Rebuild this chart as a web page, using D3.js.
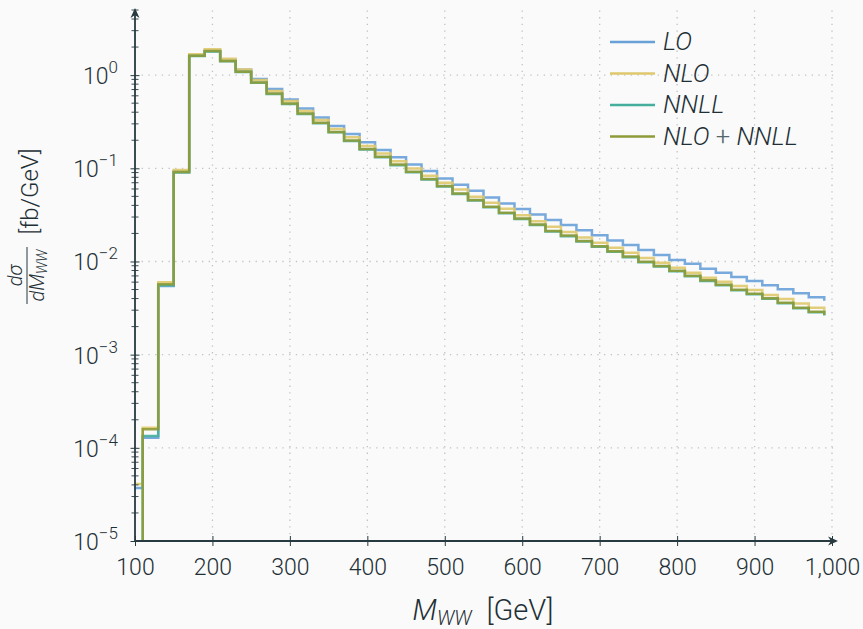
<!DOCTYPE html>
<html>
<head>
<meta charset="utf-8">
<script src="https://cdn.jsdelivr.net/npm/d3@7"></script>
<style>
    html, body { margin: 0; padding: 0; background: #fafafa; }
    svg { display: block; }
    text { font-family: Roboto, "DejaVu Sans", sans-serif; font-weight: 300; fill: #1e3036; }
</style>
</head>
<body>
<svg id="chart" width="863" height="629"></svg>
<script>
// Bin left edges in GeV (20 GeV bins); the last entry only closes the final step
const binEdges = [90, 110, 130, 150, 170, 190, 210, 230, 250, 270, 290, 310, 330, 350, 370,
    390, 410, 430, 450, 470, 490, 510, 530, 550, 570, 590, 610, 630, 650, 670,
    690, 710, 730, 750, 770, 790, 810, 830, 850, 870, 890, 910, 930, 950, 970, 990];

// dσ/dM_WW in fb/GeV
const loValues = [3.7e-5, 1.28e-4, 5.45e-3, 0.093, 1.62, 1.82, 1.45, 1.14, 0.906, 0.708,
    0.548, 0.439, 0.352, 0.284, 0.233, 0.190, 0.157, 0.131, 0.110, 0.0933,
    0.0779, 0.0665, 0.0574, 0.0487, 0.0420, 0.0365, 0.0320, 0.0278, 0.0246, 0.0216,
    0.0191, 0.0168, 0.0150, 0.0133, 0.0117, 0.0104, 0.00945, 0.00835, 0.00757, 0.00680,
    0.00617, 0.00554, 0.00502, 0.00455, 0.00412, 0.00379];

const nloValues = [4.1e-5, 1.64e-4, 5.97e-3, 0.0957, 1.68, 1.90, 1.50, 1.15, 0.884, 0.674,
    0.526, 0.411, 0.329, 0.264, 0.215, 0.173, 0.144, 0.119, 0.0998, 0.0831,
    0.0699, 0.0594, 0.0495, 0.0427, 0.0367, 0.0313, 0.0271, 0.0236, 0.0207, 0.0181,
    0.0159, 0.0140, 0.0124, 0.0109, 0.00968, 0.00856, 0.00757, 0.00668, 0.00606, 0.00545,
    0.00493, 0.00436, 0.00395, 0.00355, 0.00318, 0.00296];

const nnllValues = [1e-7, 1.34e-4, 5.55e-3, 0.090, 1.60, 1.79, 1.41, 1.08, 0.826, 0.629,
    0.491, 0.383, 0.304, 0.243, 0.196, 0.159, 0.131, 0.108, 0.0905, 0.0756,
    0.0636, 0.0531, 0.0450, 0.0381, 0.0329, 0.0286, 0.0247, 0.0210, 0.0187, 0.0164,
    0.0144, 0.0127, 0.0111, 0.00980, 0.00881, 0.00784, 0.00694, 0.00619, 0.00555, 0.00491,
    0.00444, 0.00397, 0.00356, 0.00314, 0.00285, 0.00263];

const matchedValues = [1e-7, 1.58e-4, 5.68e-3, 0.091, 1.61, 1.81, 1.42, 1.09, 0.835, 0.636,
    0.497, 0.388, 0.308, 0.246, 0.199, 0.161, 0.133, 0.110, 0.0917, 0.0766,
    0.0644, 0.0538, 0.0456, 0.0386, 0.0333, 0.0290, 0.0250, 0.0213, 0.0190, 0.0166,
    0.0146, 0.0129, 0.0113, 0.00993, 0.00893, 0.00795, 0.00703, 0.00627, 0.00562, 0.00497,
    0.00450, 0.00402, 0.00361, 0.00318, 0.00289, 0.00266];

const seriesNames = ['LO', 'NLO', 'NNLL', 'NLO+NNLL'];
const seriesColors = ['#68a0d8', '#dfc86c', '#45ae9c', '#8e9b38'];
const seriesValues = [loValues, nloValues, nnllValues, matchedValues];

const xTicks = [100, 200, 300, 400, 500, 600, 700, 800, 900, 1000];
const yTicks = [1e-5, 1e-4, 1e-3, 1e-2, 1e-1, 1];
const yExponents = ['−5', '−4', '−3', '−2', '−1', '0'];

// Layout
const axisColor = '#263a40';
const textColor = '#1e3036';
const svg = d3.select('#chart');

const x = d3.scaleLinear().domain([100, 1000]).range([135, 832]);
const y = d3.scaleLog().domain([1e-5, 5]).range([541, 10]);
const x0 = x(100), y0 = y(1e-5);
const xEnd = 838, yTop = 8;

// Grid
const grid = svg.append('g')
    .attr('stroke', '#c2c2c2')
    .attr('stroke-width', 1.3)
    .attr('stroke-dasharray', '1.3 5.4');

grid.selectAll('.vgrid')
    .data(xTicks.slice(1))
    .enter()
    .append('line')
    .attr('x1', d => x(d)).attr('x2', d => x(d))
    .attr('y1', y0).attr('y2', y(5));

grid.selectAll('.hgrid')
    .data(yTicks.slice(1))
    .enter()
    .append('line')
    .attr('x1', x0).attr('x2', xEnd)
    .attr('y1', d => y(d)).attr('y2', d => y(d));

// Histograms
svg.append('clipPath').attr('id', 'plot-clip')
    .append('rect')
    .attr('x', x0).attr('y', 0)
    .attr('width', xEnd - x0).attr('height', y0 + 1);

const line = d3.line()
    .x(d => x(d[0]))
    .y(d => y(d[1]))
    .curve(d3.curveStepAfter);

const plot = svg.append('g').attr('clip-path', 'url(#plot-clip)');

seriesValues.forEach((vals, i) => {
    const pts = binEdges.map((e, j) => [e, vals[j]]);
    plot.append('path')
        .datum(pts)
        .attr('fill', 'none')
        .attr('stroke', seriesColors[i])
        .attr('stroke-width', 2.5)
        .attr('stroke-opacity', 0.9)
        .attr('stroke-linejoin', 'miter')
        .attr('d', line);
});

// Axes
const xAxis = svg.append('g')
    .attr('transform', `translate(0,${y0})`)
    .call(d3.axisBottom(x).tickValues(xTicks).tickFormat(d3.format(',')).tickSize(0).tickPadding(18));
xAxis.select('.domain').remove();
xAxis.selectAll('.tick line').attr('y1', -5).attr('y2', 5).attr('stroke', axisColor).attr('stroke-width', 1);
xAxis.selectAll('.tick text')
    .attr('font-size', 23)
    .attr('font-family', 'Roboto, "DejaVu Sans", sans-serif')
    .attr('font-weight', 300)
    .attr('fill', textColor);

// minor y ticks: 2..9 in each decade
const yMinor = [];
yTicks.forEach(t => {
    for (let k = 2; k <= 9; k++) {
        if (t * k <= 5) yMinor.push(t * k);
    }
});

const yAxis = svg.append('g')
    .attr('transform', `translate(${x0},0)`)
    .call(d3.axisLeft(y).tickValues(yTicks).tickFormat('').tickSize(0));
yAxis.select('.domain').remove();
yAxis.selectAll('.tick line').attr('x1', -4.5).attr('x2', 4.5).attr('stroke', axisColor).attr('stroke-width', 1);

svg.append('g').selectAll('line')
    .data(yMinor)
    .enter()
    .append('line')
    .attr('x1', x0 - 3.5).attr('x2', x0 + 3.5)
    .attr('y1', d => y(d)).attr('y2', d => y(d))
    .attr('stroke', axisColor)
    .attr('stroke-width', 0.9);

// y tick labels as 10^k
const yLabels = svg.append('g').selectAll('text')
    .data(yTicks)
    .enter()
    .append('text')
    .attr('x', 118)
    .attr('y', d => y(d) + 9)
    .attr('text-anchor', 'end')
    .attr('font-size', 23);
yLabels.append('tspan').text('10');
yLabels.append('tspan')
    .attr('dy', -11)
    .attr('font-size', 17)
    .text((d, i) => yExponents[i]);

// axis lines with arrow heads
svg.append('line')
    .attr('x1', x0).attr('x2', xEnd - 4)
    .attr('y1', y0).attr('y2', y0)
    .attr('stroke', axisColor).attr('stroke-width', 1.8);
svg.append('line')
    .attr('x1', x0).attr('x2', x0)
    .attr('y1', y0).attr('y2', yTop + 4)
    .attr('stroke', axisColor).attr('stroke-width', 1.8);
svg.append('path')
    .attr('d', `M${xEnd},${y0} L${xEnd - 10},${y0 - 4.5} L${xEnd - 7},${y0} L${xEnd - 10},${y0 + 4.5} Z`)
    .attr('fill', axisColor);
svg.append('path')
    .attr('d', `M${x0},${yTop} L${x0 - 4.5},${yTop + 10} L${x0},${yTop + 7} L${x0 + 4.5},${yTop + 10} Z`)
    .attr('fill', axisColor);

// x axis title
const xTitle = svg.append('text')
    .attr('x', 483)
    .attr('y', 620)
    .attr('text-anchor', 'middle')
    .attr('font-size', 29);
xTitle.append('tspan').attr('font-style', 'italic').text('M');
xTitle.append('tspan').attr('font-style', 'italic').attr('font-size', 20).attr('dy', 5).text('WW');
xTitle.append('tspan').attr('dy', -5).text('\u2002[GeV]');

// y axis title (rotated)
const yTitle = svg.append('g').attr('transform', 'rotate(-90)');
yTitle.append('text')
    .attr('x', -275.5).attr('y', 22)
    .attr('text-anchor', 'middle')
    .attr('font-size', 20)
    .attr('font-style', 'italic')
    .text('dσ');
yTitle.append('line')
    .attr('x1', -304).attr('x2', -247)
    .attr('y1', 27).attr('y2', 27)
    .attr('stroke', axisColor).attr('stroke-width', 1);
const denom = yTitle.append('text')
    .attr('x', -275.5).attr('y', 44)
    .attr('text-anchor', 'middle')
    .attr('font-size', 20)
    .attr('font-style', 'italic');
denom.append('tspan').text('dM');
denom.append('tspan').attr('font-size', 14).attr('dy', 3).text('WW');
yTitle.append('text')
    .attr('x', -191.5).attr('y', 38)
    .attr('text-anchor', 'middle')
    .attr('font-size', 24)
    .text('[fb/GeV]');

// Legend
const legend = svg.append('g');
const legendY = [42, 73.5, 105, 136.5];
seriesNames.forEach((name, i) => {
    legend.append('line')
        .attr('x1', 610).attr('x2', 655)
        .attr('y1', legendY[i]).attr('y2', legendY[i])
        .attr('stroke', seriesColors[i])
        .attr('stroke-width', 2.4);
    const t = legend.append('text')
        .attr('x', 663)
        .attr('y', legendY[i] + 8)
        .attr('font-size', 25.5);
    if (name === 'NLO+NNLL') {
        t.append('tspan').attr('font-style', 'italic').text('NLO');
        t.append('tspan').attr('fill', '#55666c').text(' + ');
        t.append('tspan').attr('font-style', 'italic').text('NNLL');
    } else {
        t.append('tspan').attr('font-style', 'italic').text(name);
    }
});
</script>
</body>
</html>
